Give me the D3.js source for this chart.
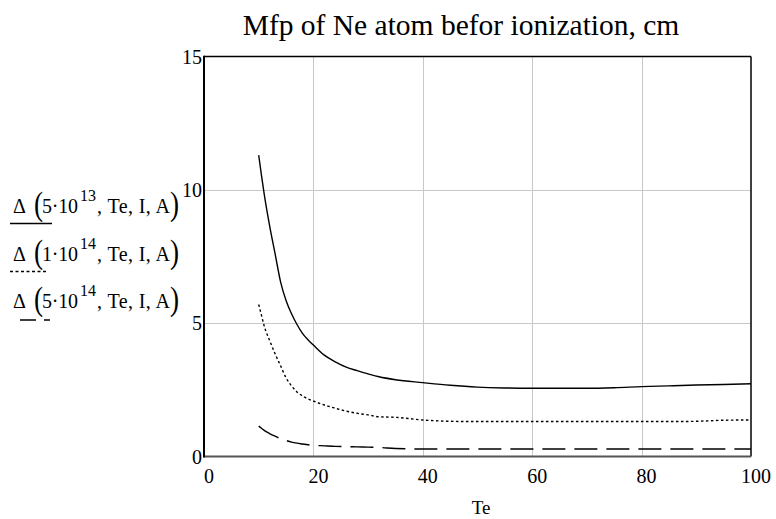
<!DOCTYPE html>
<html>
<head>
<meta charset="utf-8">
<script src="https://cdn.jsdelivr.net/npm/d3@7"></script>
<style>
  html, body { margin: 0; padding: 0; background: #fff; }
  svg { display: block; font-family: "Liberation Serif", "DejaVu Serif", serif; }
</style>
</head>
<body>
<svg id="chart" width="776" height="519"></svg>
<script>
// Electron temperature samples
const te = [10, 10.5, 11, 12, 13, 14, 15, 16, 17, 18, 19, 20, 22, 24, 26, 28, 30, 32, 35, 40, 45, 50, 55, 60, 65, 70, 75, 80, 85, 90, 95, 100];
// Mean free path for three electron densities
const mfp5e13 = [11.3, 10.55, 9.85, 8.65, 7.6, 6.55, 5.85, 5.35, 4.95, 4.62, 4.38, 4.18, 3.8, 3.55, 3.35, 3.22, 3.1, 2.99, 2.88, 2.77, 2.67, 2.6, 2.57, 2.56, 2.56, 2.56, 2.58, 2.62, 2.65, 2.68, 2.7, 2.73];
const mfp1e14 = [5.7, 5.3, 4.9, 4.35, 3.85, 3.4, 2.95, 2.65, 2.42, 2.27, 2.16, 2.08, 1.93, 1.81, 1.7, 1.62, 1.56, 1.49, 1.47, 1.37, 1.32, 1.31, 1.31, 1.31, 1.31, 1.31, 1.31, 1.31, 1.31, 1.32, 1.36, 1.37];
const mfp5e14 = [1.14, 1.06, 0.98, 0.86, 0.76, 0.67, 0.6, 0.54, 0.5, 0.47, 0.44, 0.42, 0.4, 0.38, 0.37, 0.36, 0.35, 0.34, 0.3, 0.28, 0.28, 0.28, 0.28, 0.28, 0.28, 0.28, 0.28, 0.28, 0.28, 0.28, 0.28, 0.28];

const xTicks = [0, 20, 40, 60, 80, 100];
const yTicks = [0, 5, 10, 15];
const titleText = "Mfp of Ne atom befor ionization, cm";
const xLabel = "Te";
const legendMantissa = ["5", "1", "5"];
const legendExponent = ["13", "14", "14"];

const svg = d3.select("#chart");
const plotLeft = 204, plotRight = 751, plotTop = 56.5, plotBottom = 456.5;

const x = d3.scaleLinear().domain([0, 100]).range([plotLeft, plotRight]);
const y = d3.scaleLinear().domain([0, 15]).range([plotBottom, plotTop]);

// Grid
const grid = svg.append("g").attr("stroke", "#c8c8c8").attr("stroke-width", 1);
[20, 40, 60, 80].forEach(v => grid.append("line")
  .attr("x1", Math.round(x(v)) + 0.5).attr("x2", Math.round(x(v)) + 0.5)
  .attr("y1", plotTop).attr("y2", plotBottom));
[5, 10].forEach(v => grid.append("line")
  .attr("x1", plotLeft).attr("x2", plotRight)
  .attr("y1", Math.round(y(v)) + 0.5).attr("y2", Math.round(y(v)) + 0.5));

// Frame
svg.append("line").attr("x1", plotLeft).attr("x2", plotRight).attr("y1", plotTop).attr("y2", plotTop)
  .attr("stroke", "#000").attr("stroke-width", 1.5);
svg.append("line").attr("x1", plotRight).attr("x2", plotRight).attr("y1", plotTop).attr("y2", plotBottom)
  .attr("stroke", "#000").attr("stroke-width", 1.5);
svg.append("line").attr("x1", plotLeft).attr("x2", plotRight).attr("y1", plotBottom).attr("y2", plotBottom)
  .attr("stroke", "#555").attr("stroke-width", 2.2);
svg.append("line").attr("x1", plotLeft).attr("x2", plotLeft).attr("y1", plotTop - 0.7).attr("y2", plotBottom + 1)
  .attr("stroke", "#000").attr("stroke-width", 2);

// Curves
const line = d3.line().x(d => x(d[0])).y(d => y(d[1])).curve(d3.curveMonotoneX);
const series = [
  { values: mfp5e13, dash: null },
  { values: mfp1e14, dash: "2.5,2.5" },
  { values: mfp5e14, dash: "23,9" }
];
series.forEach(s => {
  svg.append("path")
    .datum(te.map((t, i) => [t, s.values[i]]))
    .attr("d", line)
    .attr("fill", "none")
    .attr("stroke", "#000")
    .attr("stroke-width", 1.4)
    .attr("stroke-dasharray", s.dash);
});

// Tick labels
svg.append("g").selectAll("text").data(xTicks).join("text")
  .attr("x", d => x(d) + 5).attr("y", 483)
  .attr("text-anchor", "middle").attr("font-size", 20).text(d => d);
svg.append("g").selectAll("text").data(yTicks).join("text")
  .attr("x", 202).attr("y", d => y(d) + 7)
  .attr("text-anchor", "end").attr("font-size", 20).text(d => d);

// Title and axis label
svg.append("text").attr("x", 461).attr("y", 35).attr("text-anchor", "middle")
  .attr("font-size", 29.5).text(titleText);
svg.append("text").attr("x", 481).attr("y", 514).attr("text-anchor", "middle")
  .attr("font-size", 19).text(xLabel);

// Legend: function expressions with line samples
const legendBase = [213, 261, 308];
const sampleY = [223.5, 271.5, 320];
legendBase.forEach((b, i) => {
  const g = svg.append("g");
  g.append("text").attr("x", 13).attr("y", b).attr("font-size", 20).text("Δ");
  g.append("text").attr("x", 34).attr("y", b + 2)
    .attr("font-size", 34).attr("transform", `translate(34,0) scale(0.8,1) translate(-34,0)`).text("(");
  g.append("text").attr("x", 42).attr("y", b).attr("font-size", 20)
    .attr("textLength", 36).attr("lengthAdjust", "spacing").text(legendMantissa[i] + "·10");
  g.append("text").attr("x", 80).attr("y", b - 12).attr("font-size", 16).text(legendExponent[i]);
  g.append("text").attr("x", 97).attr("y", b).attr("font-size", 20)
    .attr("textLength", 73).attr("lengthAdjust", "spacing").attr("xml:space", "preserve").text(", Te, I, A");
  g.append("text").attr("x", 170).attr("y", b + 2)
    .attr("font-size", 34).attr("transform", `translate(170,0) scale(0.8,1) translate(-170,0)`).text(")");
});
svg.append("line").attr("x1", 10).attr("x2", 52).attr("y1", sampleY[0]).attr("y2", sampleY[0])
  .attr("stroke", "#000").attr("stroke-width", 1.3);
svg.append("line").attr("x1", 10).attr("x2", 48).attr("y1", sampleY[1]).attr("y2", sampleY[1])
  .attr("stroke", "#000").attr("stroke-width", 1.3).attr("stroke-dasharray", "3,2.5");
svg.append("line").attr("x1", 20).attr("x2", 50).attr("y1", sampleY[2]).attr("y2", sampleY[2])
  .attr("stroke", "#000").attr("stroke-width", 1.3).attr("stroke-dasharray", "16,8");
</script>
</body>
</html>
